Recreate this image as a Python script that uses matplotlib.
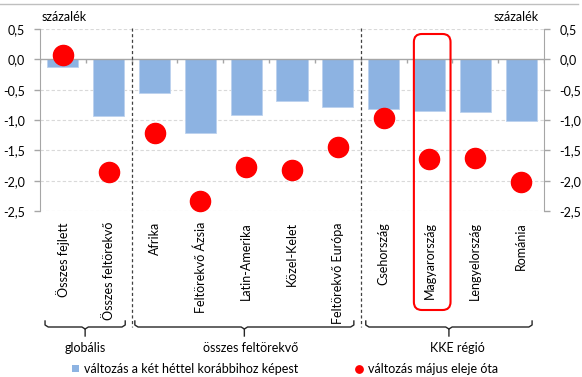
import matplotlib
matplotlib.use("Agg")
import matplotlib.pyplot as plt
import numpy as np
from matplotlib.lines import Line2D
from matplotlib.patches import FancyBboxPatch, Patch
from matplotlib.transforms import IdentityTransform, blended_transform_factory

plt.rcParams["font.family"] = ["Lato", "DejaVu Sans"]

categories = [
    "Összes fejlett",
    "Összes feltörekvő",
    "Afrika",
    "Feltörekvő Ázsia",
    "Latin-Amerika",
    "Közel-Kelet",
    "Feltörekvő Európa",
    "Csehország",
    "Magyarország",
    "Lengyelország",
    "Románia",
]
two_week_change = [-0.13, -0.93, -0.55, -1.22, -0.91, -0.69, -0.78, -0.82, -0.85, -0.86, -1.01]
since_may_change = [0.07, -1.86, -1.21, -2.34, -1.78, -1.83, -1.45, -0.96, -1.64, -1.63, -2.02]

y_ticks = [0.5, 0.0, -0.5, -1.0, -1.5, -2.0, -2.5]
y_tick_labels = ["0,5", "0,0", "-0,5", "-1,0", "-1,5", "-2,0", "-2,5"]

groups = ["globális", "összes feltörekvő", "KKE régió"]
group_members = [(0, 1), (2, 6), (7, 10)]
highlight = "Magyarország"
unit_label = "százalék"
legend_labels = ["változás a két héttel korábbihoz képest", "változás május eleje óta"]

BAR_BLUE = "#8db3e2"
AXIS_GRAY = "#a6a6a6"
W, H = 582, 377


def fy(y):
    """Pixel row (from the top) to figure fraction."""
    return 1 - y / H


fig = plt.figure(figsize=(W / 100, H / 100), dpi=100)
ax = fig.add_axes([40 / W, fy(211), 504 / W, 182 / H])

x = np.arange(len(categories))
ax.bar(x, two_week_change, width=0.68, color=BAR_BLUE, edgecolor="#bcd2ee", linewidth=0.6, zorder=2)
ax.plot(x, since_may_change, "o", color="#ff0000", ms=14.5, zorder=4, clip_on=False)
ax.set_xlim(-0.5, len(categories) - 0.5)
ax.set_ylim(-2.5, 0.5)

# dashed gridlines, solid category axis at zero with ticks between categories
for t in y_ticks:
    if t != 0:
        ax.axhline(t, color="#d9d9d9", lw=0.8, ls=(0, (3, 2)), zorder=0)
ax.axhline(0, color=AXIS_GRAY, lw=1, zorder=3)
ax.vlines(np.arange(-0.5, len(categories)), -0.065, 0, color=AXIS_GRAY, lw=1, zorder=3)

ax.set_xticks(x, categories, rotation=90)
ax.tick_params(axis="x", length=0, pad=8, labelsize=9)
ax.set_yticks(y_ticks, y_tick_labels)
ax.tick_params(axis="y", length=4, width=1, color=AXIS_GRAY, pad=7, labelsize=9)
for s in ["top", "bottom", "right"]:
    ax.spines[s].set_visible(False)
ax.spines["left"].set_color(AXIS_GRAY)

ax2 = ax.twinx()
ax2.set_ylim(ax.get_ylim())
ax2.set_yticks(y_ticks, y_tick_labels)
ax2.tick_params(axis="y", length=4, width=1, color=AXIS_GRAY, pad=7, labelsize=9)
for s in ["top", "bottom", "left"]:
    ax2.spines[s].set_visible(False)
ax2.spines["right"].set_color(AXIS_GRAY)

trans = blended_transform_factory(ax.transData, fig.transFigure)

# dashed separators between the groups
for (_, last), (first, _) in zip(group_members[:-1], group_members[1:]):
    b = (last + first) / 2
    fig.add_artist(Line2D([b, b], [fy(28), fy(327)], transform=trans,
                          color="#404040", lw=0.9, ls=(0, (2.5, 2))))

# braces under the category labels
brace_edges = [(-0.39, 1.36), (1.57, 6.35), (6.61, 10.24)]
label_x = [0.48, 4.1, 8.6]
dx = 0.07
for (x0, x1), lx, name in zip(brace_edges, label_x, groups):
    xc = (x0 + x1) / 2
    left = [(x0, 321), (x0, 325), (x0 + dx, 327), (xc - dx, 327), (xc, 329), (xc, 336)]
    right = [(x1, 321), (x1, 325), (x1 - dx, 327), (xc + dx, 327), (xc, 329)]
    for pts in (left, right):
        xs = [p[0] for p in pts]
        ys = [fy(p[1]) for p in pts]
        fig.add_artist(Line2D(xs, ys, transform=trans, color="#262626", lw=1))
    ax.text(lx, fy(348), name, transform=trans, ha="center", va="center", fontsize=9)

# rounded frame around the highlighted country
i = categories.index(highlight)
x0 = ax.transData.transform((i - 0.34, 0))[0]
x1 = ax.transData.transform((i + 0.46, 0))[0]
frame = FancyBboxPatch((x0, H - 310), x1 - x0, 310 - 34,
                       boxstyle="round,pad=0,rounding_size=8",
                       transform=IdentityTransform(), fill=False,
                       edgecolor="#ff0000", lw=1.5, zorder=5)
fig.add_artist(frame)

fig.text(42 / W, fy(17), unit_label, ha="left", va="center", fontsize=9)
fig.text(539 / W, fy(17), unit_label, ha="right", va="center", fontsize=9)
fig.add_artist(Line2D([0, 578 / W], [fy(4), fy(4)], transform=fig.transFigure,
                      color="#bfbfbf", lw=1))

handles = [
    Patch(facecolor=BAR_BLUE, edgecolor="none"),
    Line2D([], [], marker="o", ls="none", color="#ff0000", ms=5.3),
]
fig.legend(handles, legend_labels, loc="center left", bbox_to_anchor=(72 / W, fy(369)),
           ncol=2, frameon=False, fontsize=9, handlelength=0.56, handleheight=0.56,
           handletextpad=0.4, columnspacing=4.6, borderpad=0, borderaxespad=0)

fig.savefig("out.png", dpi=100)
